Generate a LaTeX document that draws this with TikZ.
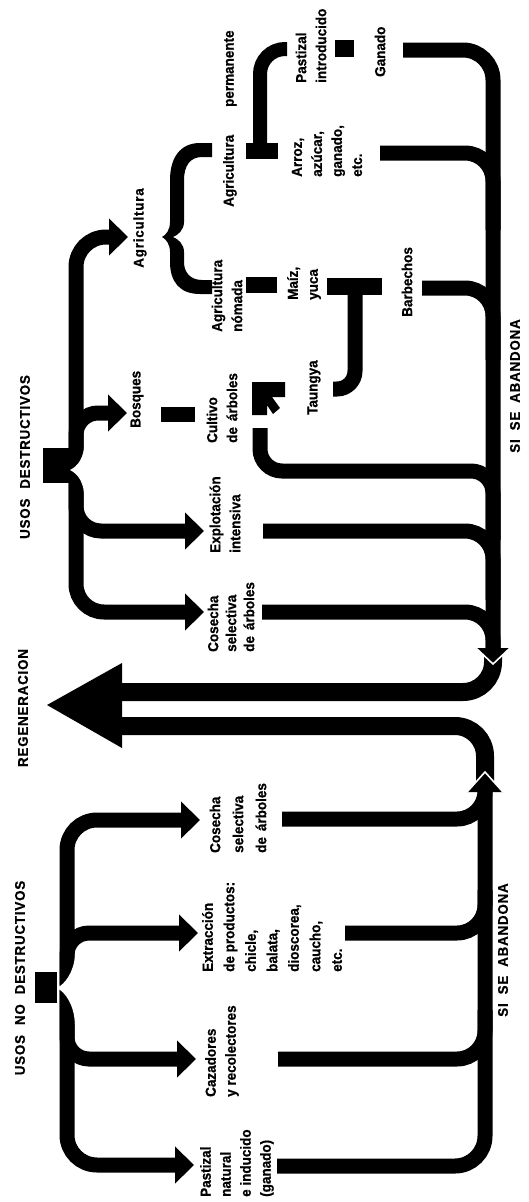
\documentclass[tikz,border=0pt]{standalone}
\usepackage{fontspec}
\setmainfont{Liberation Sans}[FakeStretch=0.93,BoldFeatures={FakeBold=0.8}]
\newfontfamily\headfont{Liberation Sans}[FakeStretch=0.95,LetterSpace=6,BoldFeatures={FakeBold=0.8}]
\usetikzlibrary{arrows.meta}
\begin{document}
\begin{tikzpicture}[x=1pt,y=-1pt,
  band/.style={line width=15pt},
  regband/.style={line width=18pt},
  rarrow/.style={band,-{Triangle[length=19pt,width=36pt]}},
  lbl/.style={rotate=90,inner sep=0pt,anchor=west,align=left,font=\fontsize{14.5}{20}\selectfont\bfseries},
  headlbl/.style={rotate=90,inner sep=0pt,font=\headfont\fontsize{14}{16}\selectfont\bfseries},
  notch/.style={fill=white},
  tipedge/.style={draw=white,line width=1.6pt}]
\useasboundingbox (0,0) rectangle (529,1202);

% ---------------- texts ----------------
\node[lbl] (agrperm) at (230,207) {Agricultura\hspace{28pt}permanente};
\node[lbl] (pastint) at (311,83) {Pastizal\\introducido};
\node[lbl] (ganado) at (380,77) {Ganado};
\node[lbl,anchor=center,font=\headfont\fontsize{14}{20}\selectfont\bfseries] (agric) at (140,228) {Agricultura};
\node[lbl] (arroz) at (327,177) {Arroz,\\azúcar,\\ganado,\\etc.};
\node[lbl] (nomada) at (227,332) {Agricultura\\nómada};
\node[lbl] (maiz) at (304,300) {Maíz,\\yuca};
\node[lbl] (barb) at (407,317) {Barbechos};
\node[headlbl] (usosd) at (25,457) {USOS\hspace{10pt}DESTRUCTIVOS};
\node[lbl] (bosq) at (137,428) {Bosques};
\node[lbl] (cultivo) at (222,443) {Cultivo\\de\hspace{6pt}árboles};
\node[lbl] (taungya) at (314,415) {Taungya};
\node[lbl] (explot) at (225,553) {Explotación\\intensiva};
\node[headlbl] (siA) at (515,386) {SI\hspace{9pt}SE\hspace{9pt}ABANDONA};
\node[lbl,font=\fontsize{14.5}{18}\selectfont\bfseries] (cosD) at (231,652) {Cosecha\\selectiva\\de\hspace{6pt}árboles};
\node[headlbl] (regen) at (23,708) {REGENERACION};
\node[lbl,font=\fontsize{14.5}{23}\selectfont\bfseries] (cosN) at (238,853) {Cosecha\\selectiva\\de\hspace{6pt}árboles};
\node[lbl,font=\fontsize{14.5}{21.5}\selectfont\bfseries] (extr) at (272,972) {Extracción\\de productos:\\chicle,\\balata,\\dioscorea,\\caucho,\\etc.};
\node[headlbl] (usosn) at (20,978) {USOS\hspace{10pt}NO\hspace{10pt}DESTRUCTIVOS};
\node[headlbl] (siB) at (503,950) {SI\hspace{9pt}SE\hspace{9pt}ABANDONA};
\node[lbl] (caz) at (222,1097) {Cazadores\\y recolectores};
\node[lbl] (past) at (237,1197) {Pastizal\\natural\\e inducido\\(ganado)};

% ---------------- named end points ----------------
\coordinate (g0) at (403,50);
\coordinate (dnBase) at (493,648);
\coordinate (a0) at (380,153);  \coordinate (m1) at (493,230);
\coordinate (b0) at (422,288);  \coordinate (m2) at (493,360);
\coordinate (c0) at (260,428);  \coordinate (m3) at (493,540);
\coordinate (e0) at (263,531);  \coordinate (m4) at (493,600);
\coordinate (k0) at (262,612);
\coordinate (regU) at (115,692);
\coordinate (regL) at (115,726);
\coordinate (upBase) at (485,792);
\coordinate (upEnd) at (485,785);
\coordinate (p0) at (277,1166);
\coordinate (q0) at (282,819);  \coordinate (n1) at (485,785);
\coordinate (x0) at (345,933);  \coordinate (n2) at (485,890);
\coordinate (z0) at (278,1059); \coordinate (n3) at (485,1010);
% left, destructive
\coordinate (sD) at (76,470);
\coordinate (tAgr) at (128,237);
\coordinate (tBos) at (127,413);
\coordinate (tExp) at (204,531);
\coordinate (tCos) at (204,612);
% left, non destructive
\coordinate (sN) at (67,988);
\coordinate (tCosN) at (200,820);
\coordinate (tExt) at (198,933);
\coordinate (tCaz) at (196,1059);
\coordinate (tPas) at (194,1165);

% ---------------- right trunk (upper) ----------------
\draw[band,rounded corners=30pt] (g0) -| (dnBase);
\draw[band,rounded corners=28pt] (a0) -| (m1);
\draw[band,rounded corners=28pt] (b0) -| (m2);
\draw[band,rounded corners=22pt] (c0) -- (260,471) -| (m3);
\draw[band,rounded corners=28pt] (e0) -| (m4);
\draw[band,rounded corners=28pt] (k0) -| (dnBase);

% ---------------- regeneration U's ----------------
\draw[regband,rounded corners=30pt] (dnBase) |- (regU);
\draw[regband,rounded corners=30pt] (regL) -| (upEnd);
\fill (122,663) -- (47,705) -- (122,748) -- cycle;

% ---------------- right trunk (lower) ----------------
\draw[band,rounded corners=30pt] (p0) -| (upBase);
\draw[band,rounded corners=28pt] (q0) -| (n1);
\draw[band,rounded corners=28pt] (x0) -| (n2);
\draw[band,rounded corners=28pt] (z0) -| (n3);

% arrowheads on the trunk
\fill (476,648) -- (510,648) -- (493,664) -- cycle;
\draw[tipedge] (476,648) -- (493,664) -- (510,648);
\fill (467,792) -- (503,792) -- (485,772) -- cycle;
\draw[tipedge] (467,792) -- (485,772) -- (503,792);

% ---------------- left: usos destructivos ----------------
\draw[rarrow,rounded corners=30pt] (sD) |- (tAgr);
\draw[rarrow,rounded corners=22pt] (76,455) |- (tBos);
\draw[rarrow,rounded corners=25pt] (76,480) |- (tExp);
\draw[rarrow,rounded corners=28pt] (sD) |- (tCos);
\fill[notch] (84.5,443) .. controls (84,458) and (78,466) .. (70,470) .. controls (78,474) and (84,482) .. (84.5,498) -- cycle;
\fill (43,448) rectangle (70,483);

% ---------------- left: usos no destructivos ----------------
\draw[rarrow,rounded corners=30pt] (sN) |- (tCosN);
\draw[rarrow,rounded corners=22pt] (67,985) |- (tExt);
\draw[rarrow,rounded corners=22pt] (67,990) |- (tCaz);
\draw[rarrow,rounded corners=30pt] (sN) |- (tPas);
\fill[notch] (75,955) .. controls (74,972) and (65,984) .. (57,988) .. controls (65,992) and (74,1004) .. (75,1024) -- cycle;
\fill (35,972) rectangle (57,1003);

% ---------------- agriculture brace ----------------
\fill (212,143) -- (200,143) .. controls (180,143) and (170,158) .. (170,180) -- (170,222)
  .. controls (170,230) and (166,235) .. (162,237) .. controls (166,239) and (170,244) .. (170,252)
  -- (170,262) .. controls (170,282) and (180,294) .. (200,294) -- (212,294) -- (212,280) -- (202,280)
  .. controls (190,280) and (184,272) .. (184,262) -- (184,252) .. controls (184,244) and (178,239) .. (173,237)
  .. controls (178,235) and (184,230) .. (184,222) -- (184,180) .. controls (184,166) and (190,157) .. (202,157)
  -- (212,157) -- cycle;

% permanent agriculture -> pastizal bracket
\fill (246,143) rectangle (278,159);
\draw[line width=14pt,rounded corners=25pt] (260,151) -- (260,49) -- (287,49);

% small blocks
\fill (335,40) rectangle (354,57);
\fill (161,407) rectangle (195,422);
\fill (246,277) rectangle (277,293);

% maiz/yuca -> taungya
\fill (327,278) rectangle (382,295);
\draw[line width=15pt,rounded corners=18pt] (355,290) -- (355,389) -- (333,389);

% taungya -> cultivo de arboles
\fill (252,382) -- (285,382) -- (285,397) -- (272,397) -- (280,408) -- (273,414) -- (267,405) -- (267,415) -- (252,415) -- cycle;
\end{tikzpicture}
\end{document}
